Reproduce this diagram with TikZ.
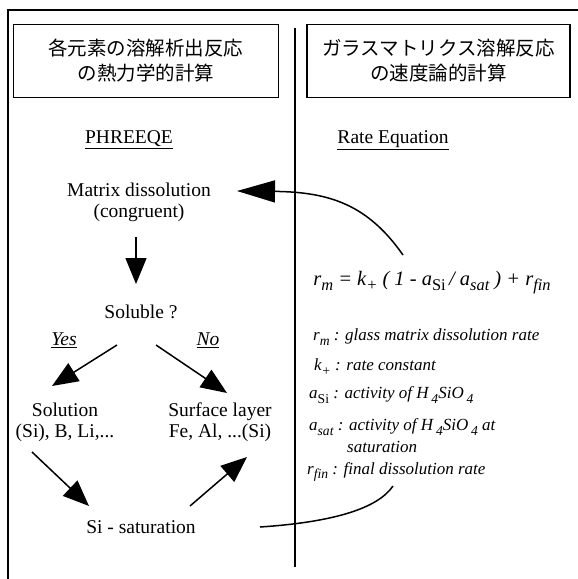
\documentclass[tikz,border=0pt]{standalone}
\usepackage{fontspec}
\setmainfont{Liberation Serif}
\newfontfamily\jp{Noto Sans CJK JP}
\usetikzlibrary{arrows.meta,calc,positioning}
\newcommand{\sbs}[1]{\raisebox{-0.55ex}{\scalebox{0.8}{#1}}}
\tikzset{pin/.style={-{Triangle[length=26pt,width=21pt]}, line width=1.5pt},
  blk/.style={draw, line width=1.5pt, font=\jp\fontsize{19.5pt}{25pt}\selectfont, align=center},
  txt/.style={font=\fontsize{19.5pt}{21pt}\selectfont, align=center, inner sep=0pt},
  defn/.style={font=\itshape\fontsize{17pt}{22pt}\selectfont, anchor=west, align=left, inner sep=0pt}}

\begin{document}
\begin{tikzpicture}[x=1pt,y=-1pt]
  \useasboundingbox (0,0) rectangle (578,579);
  % frame and divider
  \draw[line width=1.6pt] (8,579) -- (8,10) -- (578,10);
  \draw[line width=1.6pt] (295,28) -- (295,567);
  % headings
  \node[blk, minimum width=265pt, minimum height=73pt] (lbox) at (146,61) {各元素の溶解析出反応\\の熱力学的計算};
  \node[blk, minimum width=263pt, minimum height=73pt] (rbox) at (438.5,61) {ガラスマトリクス溶解反応\\の速度論的計算};
  \node[txt] (phreeqe) at (129,140) {\underline{PHREEQE}};
  \node[txt] (rateq) at (393,140) {\underline{Rate Equation}};
  % PHREEQE scheme
  \node[txt] (matrix) at (139,202) {Matrix dissolution\\(congruent)};
  \node[txt] (soluble) at (141,312) {Soluble ?};
  \node[txt, font=\itshape\fontsize{19.5pt}{21pt}\selectfont] (yes) at (64,340) {\underline{Yes}};
  \node[txt, font=\itshape\fontsize{19.5pt}{21pt}\selectfont] (no) at (208,340) {\underline{No}};
  \node[txt] (solution) at (65,422) {Solution\\(Si), B, Li,...};
  \node[txt] (surface) at (220,422) {Surface layer\\Fe, Al, ...(Si)};
  \node[txt] (sisat) at (141,527) {Si - saturation};
  \draw[pin] ($(matrix)+(-3,35)$) -- ($(soluble)+(-5,-28)$);
  \draw[pin] ($(soluble)+(-24,33)$) -- ($(solution)+(-13,-36)$);
  \draw[pin] ($(soluble)+(15,33)$) -- ($(surface)+(7,-29)$);
  \draw[pin] ($(solution)+(-33,30)$) -- ($(sisat)+(-52,-21)$);
  \draw[pin] ($(sisat)+(49,-21)$) -- ($(surface)+(27,35)$);
  % rate equation
  \node[font=\itshape\fontsize{20.5pt}{22pt}\selectfont, inner sep=0pt] (eq) at (432,283)
    {r\sbs{m} = k\sbs{+} ( 1 - a\sbs{\upshape Si}\,/ a\sbs{sat} ) + r\sbs{fin}};
  \node[defn] (drm) at (313,337) {r\sbs{m} : glass matrix dissolution rate};
  \node[defn] (dk) at (314,367) {k\sbs{+} : rate constant};
  \node[defn] (dsi) at (309,395) {a\sbs{\upshape Si} : activity of H\,\sbs{4}SiO\,\sbs{4}};
  \node[defn] (dsat) at (309,436) {a\sbs{sat} : activity of H\,\sbs{4}SiO\,\sbs{4} at\\\hspace*{38pt}saturation};
  \node[defn] (dfin) at (307,472) {r\sbs{fin} : final dissolution rate};
  % feedback curves
  \coordinate (hi) at (403,255);
  \coordinate (lo) at (393,486);
  \draw[line width=1.5pt, -{Triangle[length=38pt,width=22pt]}] (hi) .. controls (368,205) and (330,192) .. ($(matrix)+(98,-11)$);
  \draw[line width=1.5pt] ($(sisat)+(119,0)$) .. controls (335,522) and (378,508) .. (lo);
\end{tikzpicture}
\end{document}
